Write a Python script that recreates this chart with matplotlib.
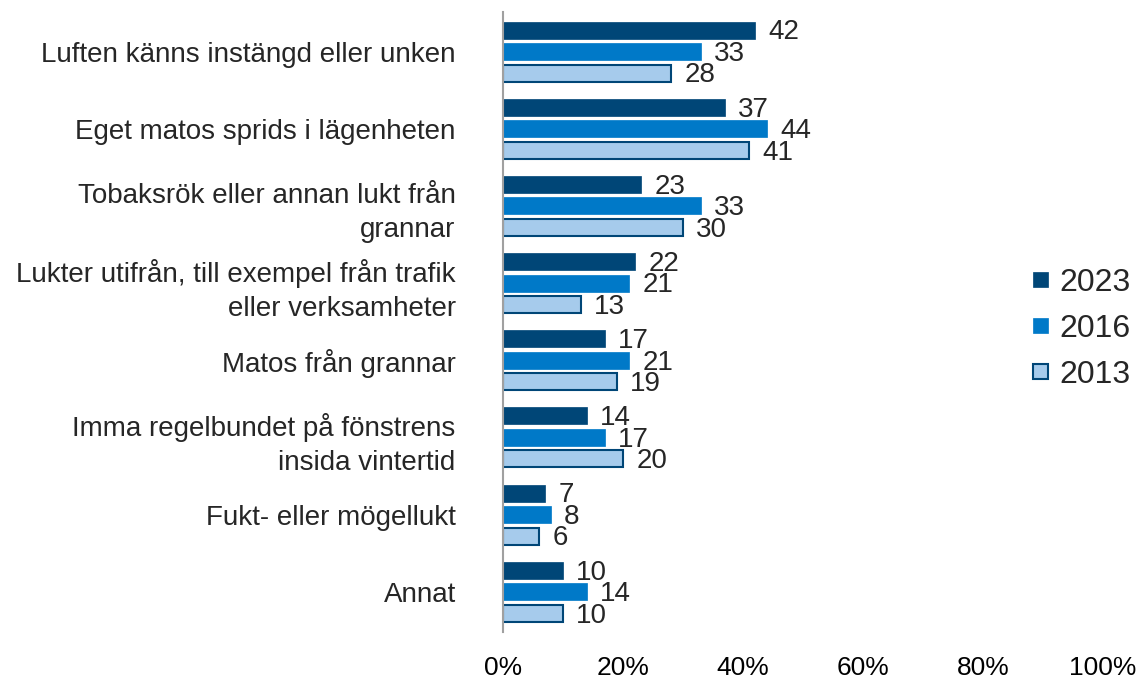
import matplotlib
matplotlib.use("Agg")
import matplotlib.pyplot as plt
import numpy as np

plt.rcParams['font.family'] = ['Liberation Sans', 'DejaVu Sans']

categories = [
    "Luften känns instängd eller unken",
    "Eget matos sprids i lägenheten",
    "Tobaksrök eller annan lukt från\ngrannar",
    "Lukter utifrån, till exempel från trafik\neller verksamheter",
    "Matos från grannar",
    "Imma regelbundet på fönstrens\ninsida vintertid",
    "Fukt- eller mögellukt",
    "Annat",
]
series_names = ["2023", "2016", "2013"]
v2023 = [42, 37, 23, 22, 17, 14, 7, 10]
v2016 = [33, 44, 33, 21, 21, 17, 8, 14]
v2013 = [28, 41, 30, 13, 19, 20, 6, 10]
xticks = [0, 20, 40, 60, 80, 100]
xticklabels = ["0%", "20%", "40%", "60%", "80%", "100%"]

colors = ["#004677", "#0079C8", "#A6CBEC"]
edges = ["#004677", "#0079C8", "#004677"]

fig = plt.figure(figsize=(11.41, 6.78), dpi=100)
ax = fig.add_axes([0.4408, 0.068, 0.5259, 0.915])

y = np.arange(len(categories))
pitch = 0.279
h = 0.22
handles = []
for i, (vals, name) in enumerate(zip([v2023, v2016, v2013], series_names)):
    pos = y + (i - 1) * pitch
    lw = 1.5 if i == 2 else 0.5
    b = ax.barh(pos, vals, height=h, color=colors[i], edgecolor=edges[i],
                linewidth=lw, label=name)
    handles.append(b)
    for p, v in zip(pos, vals):
        ax.text(v + 2.2, p + 0.03, str(v), va="center", ha="left",
                fontsize=20, color="#262626")

ax.set_ylim(len(categories) - 0.48, -0.52)
ax.set_xlim(0, 100)
ax.set_yticks(y)
ax.set_yticklabels(categories, fontsize=20, color="#262626", ha="right",
                   linespacing=1.4)
ax.set_xticks(xticks)
ax.set_xticklabels(xticklabels, fontsize=19, color="black")
ax.tick_params(axis="y", length=0, pad=34)
ax.tick_params(axis="x", length=0, pad=17)
for s in ["top", "right", "bottom"]:
    ax.spines[s].set_visible(False)
ax.spines["left"].set_color("#A0A0A0")
ax.spines["left"].set_linewidth(1.5)

leg = fig.legend(handles=handles, labels=series_names, loc="center left",
                 bbox_to_anchor=(0.880, 0.515), frameon=False, fontsize=23,
                 handlelength=0.47, handleheight=0.35, handletextpad=0.35,
                 labelspacing=0.5, labelcolor="#262626")

fig.savefig("out.png", dpi=100)
